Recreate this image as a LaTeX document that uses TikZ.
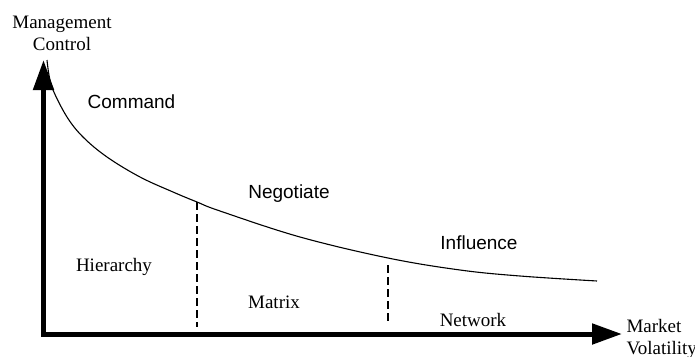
\documentclass[tikz,border=0pt]{standalone}
\usepackage{fontspec}
\setmainfont{Liberation Serif}
\newfontfamily\arialfont{Liberation Sans}
\usetikzlibrary{arrows.meta}

\begin{document}
\begin{tikzpicture}[x=1pt, y=-1pt,
    axis/.style={line width=5pt, -{Triangle[length=30pt, width=20pt]}},
    region/.style={font=\fontsize{19}{22}\selectfont, anchor=base},
    mode/.style={font=\arialfont\fontsize{19}{22}\selectfont, anchor=base},
    split/.style={line width=2pt, dash pattern=on 8pt off 4pt}]
  \useasboundingbox (0,0) rectangle (695,356);
  % axes
  \coordinate (O) at (41,334);
  \coordinate (Ybot) at (43.5,336.5);
  \coordinate (Ytip) at (43.5,60);
  \coordinate (Xtip) at (622,334);
  \draw[axis] (Ybot) -- (Ytip);
  \draw[axis] (O) -- (Xtip);
  \node[region, align=center] (ylabel) at (62,50) {Management\\Control};
  \node[region, align=left, anchor=base west] (xlabel) at (623,354) {Market\\Volatility};
  % control curve
  \draw[line width=1.1pt] plot[smooth, tension=0.6] coordinates {
    (47,60) (49,75) (53,90) (67,117) (83,137) (107,157) (140,177)
    (173,192) (197,202) (220,211) (300,237) (388,258) (460,270)
    (520,276) (597,281)};
  % region boundaries
  \coordinate (S1) at (197,202);
  \coordinate (S1b) at (197,327);
  \coordinate (S2) at (388,265);
  \coordinate (S2b) at (388,323);
  \draw[split] (S1) -- (S1b);
  \draw[split] (S2) -- (S2b);
  % labels
  \node[mode] (command) at (131.5,108) {Command};
  \node[mode] (negotiate) at (289,198) {Negotiate};
  \node[mode] (influence) at (479,249) {Influence};
  \node[region] (hierarchy) at (114,271) {Hierarchy};
  \node[region] (matrix) at (274,308) {Matrix};
  \node[region] (network) at (473,326) {Network};
\end{tikzpicture}
\end{document}
